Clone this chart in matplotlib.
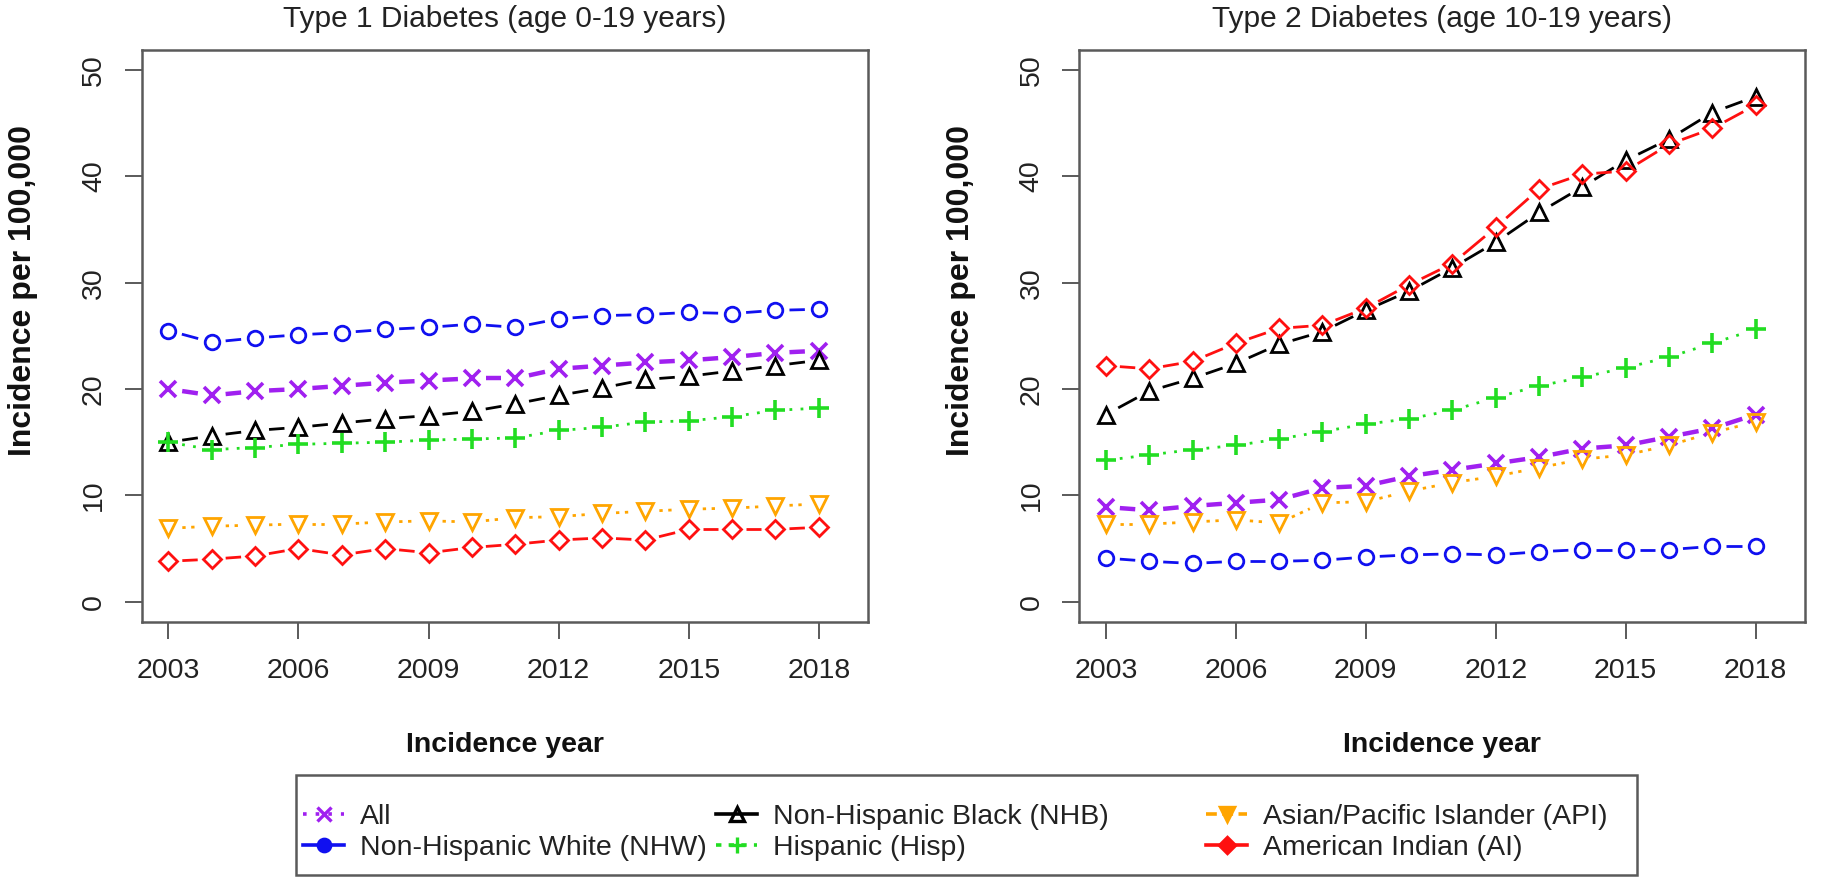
import numpy as np
import matplotlib
matplotlib.use("Agg")
import matplotlib.pyplot as plt
from matplotlib.lines import Line2D
from matplotlib.patches import Rectangle

plt.rcParams['font.family'] = ['Liberation Sans', 'DejaVu Sans']

years = np.arange(2003, 2019)

# Type 1 diabetes, age 0-19, incidence per 100,000
t1_all  = [20.0, 19.4, 19.8, 20.0, 20.3, 20.6, 20.8, 21.0, 21.0, 21.9, 22.2, 22.5, 22.7, 23.0, 23.4, 23.6]
t1_nhw  = [25.5, 24.4, 24.8, 25.1, 25.3, 25.6, 25.8, 26.1, 25.8, 26.6, 26.9, 27.0, 27.2, 27.1, 27.4, 27.5]
t1_nhb  = [15.0, 15.6, 16.1, 16.4, 16.8, 17.2, 17.5, 17.9, 18.6, 19.4, 20.1, 20.9, 21.2, 21.7, 22.2, 22.7]
t1_hisp = [15.0, 14.3, 14.5, 14.8, 14.9, 15.0, 15.2, 15.3, 15.4, 16.1, 16.4, 16.9, 17.0, 17.4, 18.0, 18.2]
t1_api  = [6.9, 7.1, 7.2, 7.3, 7.3, 7.5, 7.6, 7.5, 7.9, 8.0, 8.3, 8.5, 8.7, 8.8, 9.0, 9.2]
t1_ai   = [3.8, 4.0, 4.3, 5.0, 4.4, 5.0, 4.6, 5.1, 5.4, 5.8, 6.0, 5.8, 6.8, 6.8, 6.8, 7.0]

# Type 2 diabetes, age 10-19
t2_all  = [8.9, 8.6, 9.0, 9.3, 9.6, 10.7, 10.9, 11.8, 12.4, 13.0, 13.6, 14.4, 14.7, 15.5, 16.3, 17.6]
t2_nhw  = [4.1, 3.8, 3.6, 3.8, 3.8, 3.9, 4.2, 4.4, 4.5, 4.4, 4.7, 4.9, 4.9, 4.9, 5.2, 5.2]
t2_nhb  = [17.6, 19.8, 21.0, 22.4, 24.2, 25.4, 27.4, 29.2, 31.4, 33.8, 36.6, 39.0, 41.5, 43.5, 46.0, 47.5]
t2_hisp = [13.3, 13.8, 14.3, 14.7, 15.3, 16.0, 16.7, 17.2, 18.0, 19.2, 20.3, 21.1, 22.0, 23.0, 24.3, 25.6]
t2_api  = [7.3, 7.3, 7.5, 7.7, 7.4, 9.3, 9.4, 10.4, 11.2, 11.8, 12.6, 13.4, 13.8, 14.7, 15.9, 16.9]
t2_ai   = [22.2, 21.9, 22.6, 24.3, 25.7, 26.0, 27.6, 29.8, 31.8, 35.2, 38.8, 40.2, 40.5, 43.0, 44.5, 46.7]

labels = ["All", "Non-Hispanic White (NHW)", "Non-Hispanic Black (NHB)",
          "Hispanic (Hisp)", "Asian/Pacific Islander (API)", "American Indian (AI)"]
colors = ["#A020F0", "#1010F0", "#000000", "#22DD22", "#FFA500", "#FF1010"]
markers = ["x", "o", "^", "+", "v", "D"]
msizes = [11.5, 10.5, 11.5, 14, 11.5, 9]
lwidths = [3.2, 2.0, 2.0, 2.0, 2.0, 2.0]
lstyles = ["-", "-", "-", (0, (1, 3)), (0, (1.2, 2)), "-"]
leg_styles = [(0, (1, 2.5)), "-", "-", (0, (1.5, 2)), (0, (3, 1.5)), "-"]

panels = [
    ("Type 1 Diabetes (age 0-19 years)", [t1_all, t1_nhw, t1_nhb, t1_hisp, t1_api, t1_ai]),
    ("Type 2 Diabetes (age 10-19 years)", [t2_all, t2_nhw, t2_nhb, t2_hisp, t2_api, t2_ai]),
]

W, H = 1821, 883
fig = plt.figure(figsize=(W / 100, H / 100), dpi=100)
axes_px = [(141.7, 868.3), (1079.3, 1805.0)]
top_px, bot_px = 50.0, 621.7
spine_col = "#5a5a5a"
txt_col = "#222222"
gap_px = 14  # R type="b" leaves a gap around each point


def gapped_line(ax, x, y, color, lw, ls):
    pts = ax.transData.transform(np.column_stack([x, y]))
    inv = ax.transData.inverted()
    for i in range(len(pts) - 1):
        p0, p1 = pts[i], pts[i + 1]
        d = p1 - p0
        L = np.hypot(*d)
        if L <= 2 * gap_px:
            continue
        a = p0 + d * gap_px / L
        b = p1 - d * gap_px / L
        seg = inv.transform(np.array([a, b]))
        ax.plot(seg[:, 0], seg[:, 1], color=color, lw=lw, linestyle=ls,
                solid_capstyle="butt", dash_capstyle="butt", zorder=2)


for (title, series), (l, r) in zip(panels, axes_px):
    ax = fig.add_axes([l / W, (H - bot_px) / H, (r - l) / W, (bot_px - top_px) / H])
    ax.set_xlim(2002.386, 2019.14)
    ax.set_ylim(-1.88, 51.88)
    for vals, c, m, ms in zip(series, colors, markers, msizes):
        ax.plot(years, vals, linestyle="none", marker=m, ms=ms, mfc="none",
                mec=c, mew=2.6 if m in ("x", "+") else 2.0, zorder=3)
    fig.canvas.draw()
    for vals, c, lw, ls in zip(series, colors, lwidths, lstyles):
        gapped_line(ax, years, vals, c, lw, ls)

    ax.set_xticks(np.arange(2003, 2019, 3))
    ax.set_yticks(np.arange(0, 51, 10))
    for s in ax.spines.values():
        s.set_color(spine_col)
        s.set_linewidth(1.8)
    ax.tick_params(direction="out", length=12, width=1.4, color=spine_col,
                   labelsize=20.5, labelcolor=txt_col)
    ax.tick_params(axis="x", pad=14)
    ax.tick_params(axis="y", pad=13, labelrotation=90)
    for t in ax.get_yticklabels():
        t.set_va("center")

    ax.text(0.5, 1.0408, title, transform=ax.transAxes, ha="center",
            va="baseline", fontsize=21.5, color=txt_col)
    ax.text(0.5, -0.2274, "Incidence year", transform=ax.transAxes, ha="center",
            va="baseline", fontsize=20.5, fontweight="bold", color="#111111")
    ax.text(-0.163, 0.58, "Incidence per 100,000", transform=ax.transAxes,
            ha="center", va="center", rotation=90, fontsize=23,
            fontweight="bold", color="#111111")

handles = [Line2D([], [], color=c, marker=m, ms=ms * 0.85,
                  mfc=c if m in ("o", "v", "D") else "none",
                  mec=c, mew=2.4, lw=2.6, linestyle=ls)
           for c, m, ms, ls in zip(colors, markers, msizes, leg_styles)]

# legend laid out like R: three equal-width columns inside one box
fig.add_artist(Rectangle((296 / W, 1 - 875 / H), (1637 - 296) / W, 100 / H,
                         transform=fig.transFigure, fill=False,
                         edgecolor=spine_col, linewidth=1.8))
col_x = [303, 716, 1206]
for k, x0 in enumerate(col_x):
    leg = fig.legend(handles[2 * k:2 * k + 2], labels[2 * k:2 * k + 2],
                     loc="center left", bbox_to_anchor=(x0 / W, 1 - 832.5 / H),
                     fontsize=20.5, frameon=False, handlelength=1.45,
                     handletextpad=0.55, labelspacing=0.15, borderpad=0,
                     borderaxespad=0)
    for t in leg.get_texts():
        t.set_color(txt_col)

fig.savefig("out.png", dpi=100)
